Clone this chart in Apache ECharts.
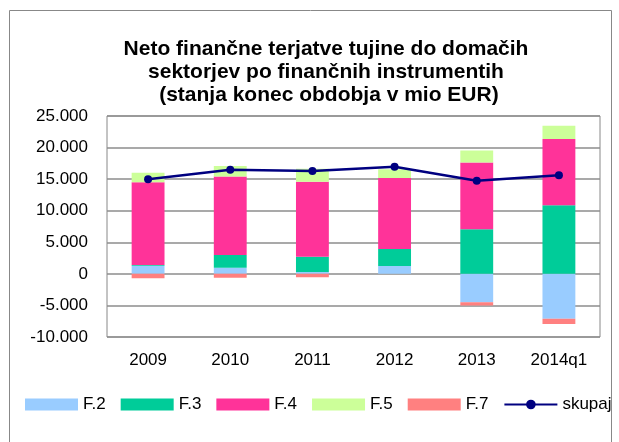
<!DOCTYPE html>
<html>
<head>
<meta charset="utf-8">
<script src="https://cdn.jsdelivr.net/npm/echarts@6/dist/echarts.min.js"></script>
<style>
  html, body { margin: 0; padding: 0; background: #fff; }
  #chart { width: 619px; height: 442px; }
</style>
</head>
<body>
<div id="chart"></div>
<script>
const categories = ['2009', '2010', '2011', '2012', '2013', '2014q1'];
const f2 = [1300, 950, 300, 1250, -4500, -7100];
const f3 = [100, 2050, 2400, 2700, 7050, 10850];
const f4 = [13100, 12400, 11900, 11250, 10600, 10500];
const f5 = [1500, 1700, 2050, 1350, 1900, 2100];
const f7 = [-700, -600, -550, 0, -500, -850];
const skupaj = [15000, 16500, 16300, 16950, 14750, 15600];

const font = '"Liberation Sans", Arial, sans-serif';

const chart = echarts.init(document.getElementById('chart'));

// thousand separator is a dot, as in the original
const fmt = (v) => {
  const s = Math.abs(v).toString().replace(/\B(?=(\d{3})+(?!\d))/g, '.');
  return (v < 0 ? '-' : '') + s;
};

const barSeries = (name, data, color) => ({
  name: name,
  type: 'bar',
  stack: 'total',
  data: data,
  barCategoryGap: '60%',
  itemStyle: { color: color },
  emphasis: { disabled: true }
});

const option = {
  animation: false,
  textStyle: { fontFamily: font },
  title: {
    text: 'Neto finančne terjatve tujine do domačih\nsektorjev po finančnih instrumentih\n (stanja konec obdobja v mio EUR)',
    left: 321,
    textAlign: 'center',
    top: 33,
    textStyle: {
      fontFamily: font,
      fontSize: 21,
      fontWeight: 'bold',
      color: '#000',
      lineHeight: 23
    }
  },
  graphic: [
    {
      type: 'rect',
      shape: { x: 9.5, y: 10.5, width: 602, height: 440 },
      style: { fill: null, stroke: '#888', lineWidth: 1 },
      silent: true
    }
  ],
  legend: {
    left: 20,
    top: 391,
    itemWidth: 53,
    itemHeight: 12,
    itemGap: 15,
    textStyle: { fontFamily: font, fontSize: 17, color: '#000' },
    data: [
      { name: 'F.2', icon: 'rect' },
      { name: 'F.3', icon: 'rect' },
      { name: 'F.4', icon: 'rect' },
      { name: 'F.5', icon: 'rect' },
      { name: 'F.7', icon: 'rect' },
      { name: 'skupaj' }
    ]
  },
  grid: {
    left: 107,
    right: 19,
    top: 116,
    bottom: 105,
    show: true,
    borderColor: '#888',
    borderWidth: 1
  },
  xAxis: {
    type: 'category',
    data: categories,
    axisLine: { show: false },
    axisTick: { show: false },
    axisLabel: { fontFamily: font, fontSize: 17, color: '#000', margin: 15 }
  },
  yAxis: {
    type: 'value',
    min: -10000,
    max: 25000,
    interval: 5000,
    axisLine: { show: false },
    axisTick: { show: false },
    splitLine: { lineStyle: { color: '#8c8c8c', width: 1.5 } },
    axisLabel: { fontFamily: font, fontSize: 17, color: '#000', margin: 19, formatter: fmt }
  },
  series: [
    barSeries('F.2', f2, '#99CCFF'),
    barSeries('F.3', f3, '#00CC99'),
    barSeries('F.4', f4, '#FF3399'),
    barSeries('F.5', f5, '#CCFF99'),
    barSeries('F.7', f7, '#FF8080'),
    {
      name: 'skupaj',
      type: 'line',
      data: skupaj,
      symbol: 'circle',
      symbolSize: 8,
      lineStyle: { color: '#000080', width: 2.5 },
      itemStyle: { color: '#000080' },
      emphasis: { disabled: true }
    }
  ]
};

chart.setOption(option);
</script>
</body>
</html>
